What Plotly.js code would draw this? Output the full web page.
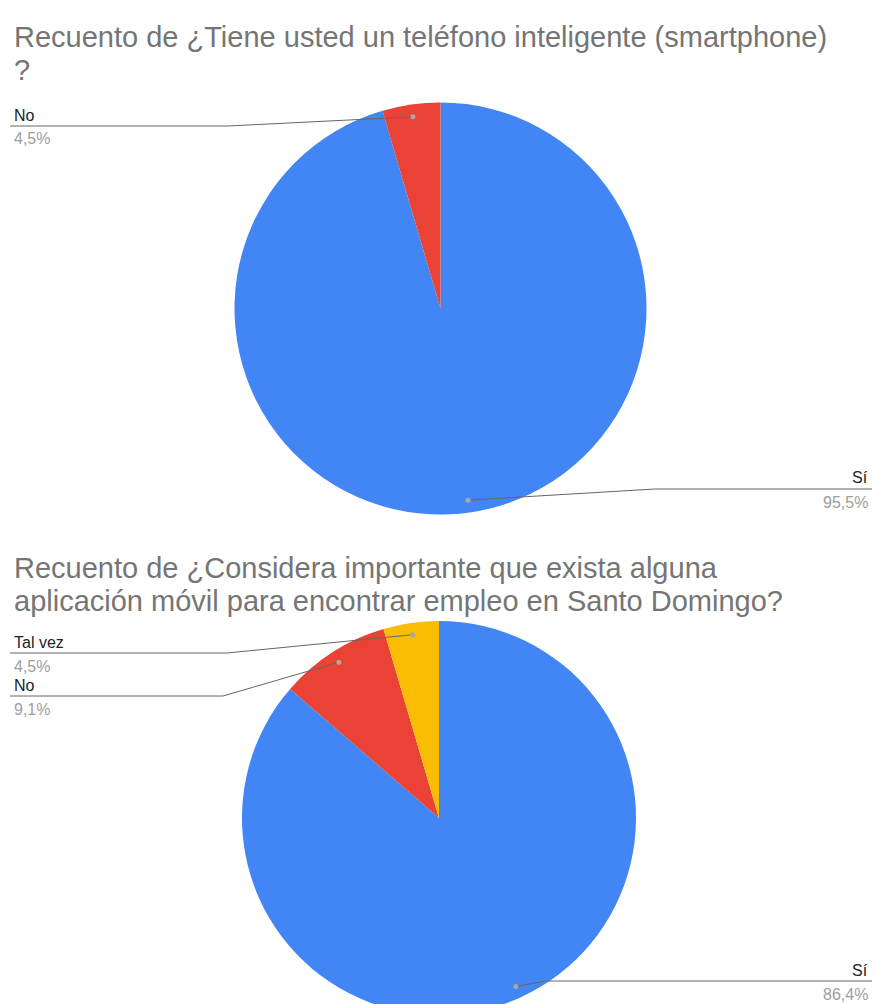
<!DOCTYPE html>
<html>
<head>
<meta charset="utf-8">
<script src="https://cdn.plot.ly/plotly-3.0.1.min.js"></script>
<style>
  html, body { margin: 0; padding: 0; background: #fff; }
  #wrap { width: 875px; height: 1004px; overflow: hidden; position: relative; }
  #chart { width: 875px; height: 1040px; }
</style>
</head>
<body>
<div id="wrap"><div id="chart"></div></div>
<script>
// ---------- data ----------
const title1Lines = ["Recuento de ¿Tiene usted un teléfono inteligente (smartphone)", "?"];
const labels1 = ["Sí", "No"];
const values1 = [21, 1];

const title2Lines = ["Recuento de ¿Considera importante que exista alguna", "aplicación móvil para encontrar empleo en Santo Domingo?"];
const labels2 = ["Sí", "No", "Tal vez"];
const values2 = [19, 2, 1];

// ---------- style / layout constants ----------
const W = 875, H = 1040;
const colorMap = { "Sí": "#4285F4", "No": "#EA4335", "Tal vez": "#FBBC04" };
const FONT = "'Liberation Sans', Arial, sans-serif";

const pies = [
  { labels: labels1, values: values1, cx: 440.5, cy: 308.5, r: 206,
    titleLines: title1Lines, titleY: [37, 70],
    callouts: { "No": { side: "left", lineY: 126, bendX: 228 },
                "Sí": { side: "right", lineY: 489, bendX: 655 } } },
  { labels: labels2, values: values2, cx: 439, cy: 818, r: 197,
    titleLines: title2Lines, titleY: [568, 601],
    callouts: { "Tal vez": { side: "left", lineY: 653, bendX: 227 },
                "No": { side: "left", lineY: 696, bendX: 223 },
                "Sí": { side: "right", lineY: 981, bendX: 545 } } }
];

const px2x = x => x / W;
const px2y = y => 1 - y / H;

const traces = [];
const shapes = [];
const annotations = [];

function pctText(v, total) {
  return (v / total * 100).toFixed(1).replace(".", ",") + "%";
}

pies.forEach(p => {
  traces.push({
    type: "pie",
    labels: p.labels,
    values: p.values,
    sort: false,
    direction: "clockwise",
    rotation: 0,
    textinfo: "none",
    hoverinfo: "label+percent",
    marker: { colors: p.labels.map(l => colorMap[l]), line: { width: 0 } },
    domain: {
      x: [px2x(p.cx - p.r), px2x(p.cx + p.r)],
      y: [px2y(p.cy + p.r), px2y(p.cy - p.r)]
    },
    showlegend: false
  });

  p.titleLines.forEach((t, i) => {
    annotations.push({
      text: t, xref: "paper", yref: "paper",
      x: px2x(12), y: px2y(p.titleY[i]), xanchor: "left", yanchor: "middle",
      showarrow: false, font: { family: FONT, size: 29, color: "#757575" }
    });
  });

  const total = p.values.reduce((a, b) => a + b, 0);
  let cum = 0;
  p.labels.forEach((lab, i) => {
    const v = p.values[i];
    const theta = (cum + v / 2) / total * 2 * Math.PI;
    cum += v;
    const c = p.callouts[lab];
    if (!c) return;
    const dr = 0.94 * p.r;
    const dx = p.cx + dr * Math.sin(theta);
    const dy = p.cy - dr * Math.cos(theta);
    const edgeX = c.side === "left" ? 10 : 872;
    shapes.push({
      type: "path", xref: "paper", yref: "paper",
      path: `M ${px2x(dx)} ${px2y(dy)} L ${px2x(c.bendX)} ${px2y(c.lineY)} L ${px2x(edgeX)} ${px2y(c.lineY)}`,
      line: { color: "#666666", width: 1 }
    });
    shapes.push({
      type: "circle", xref: "paper", yref: "paper",
      x0: px2x(dx - 2.5), x1: px2x(dx + 2.5), y0: px2y(dy + 2.5), y1: px2y(dy - 2.5),
      fillcolor: "#a8a8a8", line: { width: 0 }
    });
    const tx = c.side === "left" ? 12 : 870;
    const xa = c.side === "left" ? "left" : "right";
    annotations.push({
      text: lab, xref: "paper", yref: "paper",
      x: px2x(tx), y: px2y(c.lineY - 11), xanchor: xa, yanchor: "middle",
      showarrow: false, font: { family: FONT, size: 16, color: "#222222" }
    });
    annotations.push({
      text: pctText(v, total), xref: "paper", yref: "paper",
      x: px2x(tx), y: px2y(c.lineY + 13), xanchor: xa, yanchor: "middle",
      showarrow: false, font: { family: FONT, size: 16, color: "#9e9e9e" }
    });
  });
});

Plotly.newPlot("chart", traces, {
  width: W, height: H,
  margin: { l: 0, r: 0, t: 0, b: 0 },
  paper_bgcolor: "#ffffff",
  shapes: shapes,
  annotations: annotations
}, { displayModeBar: false, staticPlot: true });
</script>
</body>
</html>
